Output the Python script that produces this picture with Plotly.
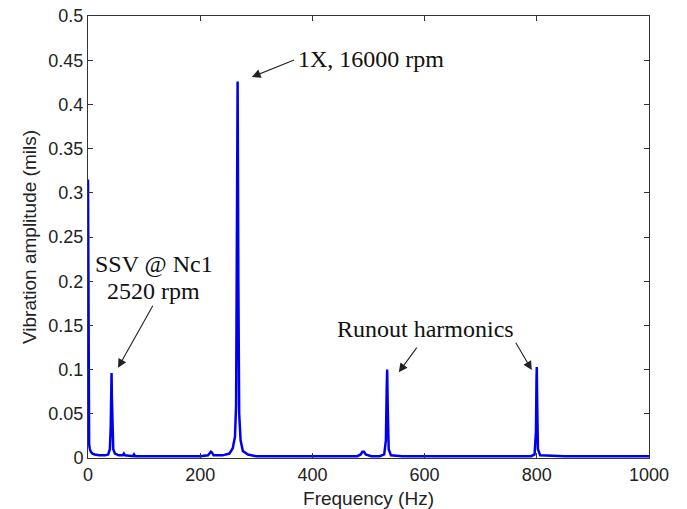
import plotly.graph_objects as go

# Spectrum data (Hz, mils)
freq = [0, 0.5, 1, 2, 3, 5, 8, 12, 20, 30, 36, 39, 40.5, 41.5, 42, 42.5, 43.5, 45, 48, 55, 62, 64, 66, 80, 82, 84,
        110, 140, 170, 200, 214, 217, 219, 221, 224, 240, 252, 258, 262, 264, 265.5, 266.7, 268, 269.5, 272, 276,
        285, 300, 330, 370, 400, 440, 480, 486, 489, 492, 495, 505, 520, 528, 531, 532.5, 533.3, 534.2, 536, 540,
        560, 600, 650, 700, 750, 790, 796, 798.5, 799.5, 800, 800.5, 802, 806, 850, 900, 950, 1000]
amp = [0.315, 0.12, 0.04, 0.016, 0.011, 0.007, 0.005, 0.004, 0.003, 0.003, 0.004, 0.010, 0.035, 0.09, 0.096, 0.07,
       0.03, 0.010, 0.005, 0.003, 0.003, 0.005, 0.003, 0.002, 0.004, 0.002,
       0.002, 0.002, 0.002, 0.002, 0.003, 0.006, 0.007, 0.006, 0.003, 0.003, 0.005, 0.011, 0.024, 0.06, 0.25, 0.426,
       0.2, 0.05, 0.02, 0.008, 0.004, 0.002, 0.002, 0.002, 0.002, 0.002, 0.002, 0.004, 0.007, 0.007, 0.004, 0.002,
       0.002, 0.004, 0.02, 0.08, 0.100, 0.06, 0.010, 0.003,
       0.002, 0.002, 0.002, 0.002, 0.002, 0.002, 0.004, 0.03, 0.09, 0.103, 0.07, 0.010, 0.003, 0.002, 0.002, 0.002,
       0.002]

x_ticks = [0, 200, 400, 600, 800, 1000]
y_ticks = [0, 0.05, 0.1, 0.15, 0.2, 0.25, 0.3, 0.35, 0.4, 0.45, 0.5]
y_tick_labels = ["0", "0.05", "0.1", "0.15", "0.2", "0.25", "0.3", "0.35", "0.4", "0.45", "0.5"]

fig = go.Figure()
fig.add_trace(go.Scatter(x=freq, y=amp, mode="lines", line=dict(color="#0000f0", width=2.5),
                         showlegend=False, hoverinfo="skip"))

tfont = dict(family="Liberation Serif, Times New Roman, serif", size=24, color="#111")
annos = [
    dict(x=370, y=0.451, text="1X, 16000 rpm", xanchor="left"),
    dict(x=117, y=0.219, text="SSV @ Nc1", xanchor="center"),
    dict(x=117, y=0.189, text="2520 rpm", xanchor="center"),
    dict(x=602, y=0.146, text="Runout harmonics", xanchor="center"),
]
for a in annos:
    fig.add_annotation(x=a["x"], y=a["y"], text=a["text"], xanchor=a["xanchor"], yanchor="middle",
                       showarrow=False, font=tfont, align="center")

arrows = [
    (292, 0.431, 370, 0.451),
    (53.5, 0.102, 117, 0.174),
    (554, 0.097, 588, 0.1265),
    (791, 0.0995, 761, 0.132),
]
for x, y, ax, ay in arrows:
    fig.add_annotation(x=x, y=y, ax=ax, ay=ay, xref="x", yref="y", axref="x", ayref="y", text="",
                       showarrow=True, arrowhead=2, arrowsize=1.6, arrowwidth=1.1, arrowcolor="#222")

sans = "Liberation Sans, Arial, sans-serif"
# y axis title as rotated text placed left of the tick labels
fig.add_annotation(x=0, y=0.5, xref="paper", yref="paper", xanchor="center", yanchor="middle",
                   xshift=-59, text="Vibration amplitude (mils)", textangle=-90, showarrow=False,
                   font=dict(family=sans, size=19, color="#222"))

axis_common = dict(showline=True, linecolor="#333", linewidth=1, mirror="allticks", ticks="inside",
                   ticklen=5, tickcolor="#333", showgrid=False, zeroline=False, automargin=False,
                   tickfont=dict(family=sans, size=18, color="#222"),
                   title_font=dict(family=sans, size=19, color="#222"))

fig.update_layout(
    width=687, height=509,
    margin=dict(l=88, r=38, t=16, b=51),
    paper_bgcolor="white", plot_bgcolor="white",
    xaxis=dict(range=[0, 1000], tickvals=x_ticks, ticktext=[str(v) for v in x_ticks],
               title=dict(text="Frequency (Hz)"), **axis_common),
    yaxis=dict(range=[0, 0.5], tickvals=y_ticks, ticktext=y_tick_labels, **axis_common),
)

fig.write_html("out.html")
